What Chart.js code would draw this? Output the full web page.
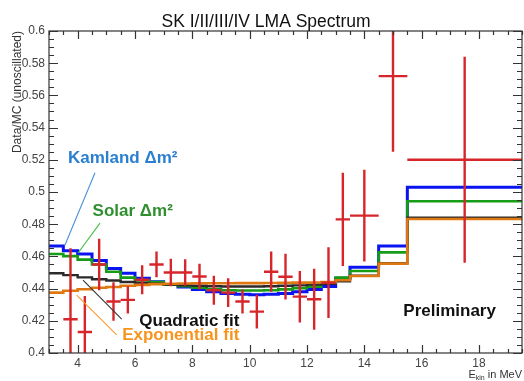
<!DOCTYPE html>
<html><head><meta charset="utf-8">
<script src="https://cdn.jsdelivr.net/npm/chart.js@4.4.1/dist/chart.umd.min.js"></script>
<style>html,body{margin:0;padding:0;background:#fff}#wrap{width:524px;height:381px;position:relative}</style>
</head><body><div id="wrap"><canvas id="c"></canvas></div>
<script>
// ---- data ----
const binEdges = [3,3.5,4,4.5,5,5.5,6,6.5,7,7.5,8,8.5,9,9.5,10,10.5,11,11.5,12,12.5,13,13.5,14.5,15.5,19.5];
const kamland     = [0.4665,0.4635,0.4615,0.4575,0.4525,0.4495,0.4465,0.4443,0.4425,0.4410,0.4395,0.4380,0.4370,0.4365,0.4362,0.4365,0.4370,0.4380,0.4395,0.4413,0.4465,0.4532,0.4665,0.5030];
const solar       = [0.4615,0.4602,0.4580,0.4550,0.4505,0.4468,0.4450,0.4440,0.4425,0.4415,0.4405,0.4395,0.4390,0.4388,0.4388,0.4390,0.4395,0.4402,0.4412,0.4432,0.4468,0.4509,0.4625,0.4943];
const quadratic   = [0.4495,0.4484,0.4470,0.4458,0.4450,0.4441,0.4435,0.4430,0.4425,0.4420,0.4418,0.4415,0.4413,0.4413,0.4413,0.4415,0.4418,0.4420,0.4425,0.4430,0.4445,0.4480,0.4557,0.4840];
const exponential = [0.4375,0.4387,0.4396,0.4405,0.4410,0.4418,0.4423,0.4428,0.4430,0.4432,0.4433,0.4433,0.4433,0.4434,0.4434,0.4435,0.4436,0.4437,0.4438,0.4440,0.4452,0.4478,0.4555,0.4832];

const dataX     = [3.75,4.25,4.75,5.25,5.75,6.25,6.75,7.25,7.75,8.25,8.75,9.25,9.75,10.25,10.75,11.25,11.75,12.25,12.75,13.25,14.0,15.0,17.5];
const dataY     = [0.421,0.413,0.455,0.432,0.433,0.4455,0.455,0.450,0.450,0.4475,0.439,0.4375,0.432,0.4257,0.4505,0.4474,0.435,0.4334,0.4437,0.483,0.4853,0.572,0.520];
const dataYErr  = [0.044,0.0224,0.016,0.012,0.0085,0.009,0.008,0.0085,0.0083,0.008,0.009,0.009,0.0075,0.0105,0.0125,0.0142,0.016,0.019,0.022,0.029,0.0285,0.047,0.064];
const dataXHalf = [0.25,0.25,0.25,0.25,0.25,0.25,0.25,0.25,0.25,0.25,0.25,0.25,0.25,0.25,0.25,0.25,0.25,0.25,0.25,0.25,0.5,0.5,2.0];

const xTickValues = [4,6,8,10,12,14,16,18];
const yTickValues = [0.4,0.42,0.44,0.46,0.48,0.5,0.52,0.54,0.56,0.58,0.6];

const FONT = '"Liberation Sans", Arial, Helvetica, sans-serif';

function stepData(vals){
  return binEdges.map((e,i)=>({x:e, y:vals[Math.min(i, vals.length-1)]}));
}

// annotations in data coordinates
const notes = [
  {text:'Kamland \u0394m\u00b2', color:'#2a7fd0', x:3.66, y:0.5183, align:'left', line:[4.605,0.512,3.558,0.4671], lineColor:'#4a90d8'},
  {text:'Solar \u0394m\u00b2', color:'#2f8f2f', x:4.52, y:0.4851, align:'left', line:[4.779,0.4807,4.012,0.4621], lineColor:'#44bb44'},
  {text:'Quadratic fit', color:'#111111', x:9.638, y:0.4165, align:'right', line:[5.536,0.4211,4.186,0.4453], lineColor:'#333333'},
  {text:'Exponential fit', color:'#f7941d', x:9.638, y:0.4081, align:'right', line:[5.362,0.4112,3.966,0.4360], lineColor:'#ff9a30'},
  {text:'Preliminary', color:'#111111', x:15.36, y:0.4232, align:'left', line:null}
];

const drawPlugin = {
  id:'rootStyle',
  afterDatasetsDraw(chart){
    const ctx = chart.ctx, a = chart.chartArea;
    const xs = chart.scales.x, ys = chart.scales.y;
    // error bars
    ctx.save();
    ctx.beginPath(); ctx.rect(a.left, a.top, a.right-a.left, a.bottom-a.top); ctx.clip();
    ctx.strokeStyle = '#d7262b'; ctx.lineWidth = 2.4; ctx.lineCap='butt';
    dataX.forEach((xv,i)=>{
      const px = xs.getPixelForValue(xv), py = ys.getPixelForValue(dataY[i]);
      ctx.beginPath();
      ctx.moveTo(px, ys.getPixelForValue(dataY[i]-dataYErr[i]));
      ctx.lineTo(px, ys.getPixelForValue(dataY[i]+dataYErr[i]));
      ctx.moveTo(xs.getPixelForValue(xv-dataXHalf[i]), py);
      ctx.lineTo(xs.getPixelForValue(xv+dataXHalf[i]), py);
      ctx.stroke();
    });
    ctx.restore();

    // frame + ticks
    ctx.save();
    ctx.strokeStyle = '#333'; ctx.lineWidth = 1.2;
    ctx.strokeRect(a.left, a.top, a.right-a.left, a.bottom-a.top);
    ctx.beginPath();
    for(let k=0;k<=40;k++){
      const v = 0.4 + k*0.005;
      const major = (k%4===0);
      const len = major ? 9 : 5;
      const py = Math.round(ys.getPixelForValue(v))+0.5;
      ctx.moveTo(a.left, py); ctx.lineTo(a.left+len, py);
      ctx.moveTo(a.right, py); ctx.lineTo(a.right-len, py);
    }
    for(let k=0;k<=33;k++){
      const v = 3 + k*0.5;
      const major = (Math.abs(v%2)<1e-9);
      const len = major ? 8 : 4;
      const px = Math.round(xs.getPixelForValue(v))+0.5;
      ctx.moveTo(px, a.bottom); ctx.lineTo(px, a.bottom-len);
      ctx.moveTo(px, a.top); ctx.lineTo(px, a.top+len);
    }
    ctx.stroke();
    ctx.restore();

    // annotations
    ctx.save();
    notes.forEach(n=>{
      if(n.line){
        ctx.strokeStyle = n.lineColor; ctx.lineWidth = 1.1;
        ctx.beginPath();
        ctx.moveTo(xs.getPixelForValue(n.line[0]), ys.getPixelForValue(n.line[1]));
        ctx.lineTo(xs.getPixelForValue(n.line[2]), ys.getPixelForValue(n.line[3]));
        ctx.stroke();
      }
      ctx.fillStyle = n.color; ctx.font = 'bold 17px '+FONT;
      ctx.textAlign=n.align; ctx.textBaseline='alphabetic';
      ctx.fillText(n.text, xs.getPixelForValue(n.x), ys.getPixelForValue(n.y));
    });
    // title
    ctx.fillStyle = '#111'; ctx.font = '17.5px '+FONT; ctx.textAlign='center';
    ctx.fillText('SK I/II/III/IV LMA Spectrum', 266, 27);
    // y title
    ctx.save();
    ctx.translate(21, a.top); ctx.rotate(-Math.PI/2);
    ctx.fillStyle = '#333'; ctx.font = '12px '+FONT; ctx.textAlign='right';
    ctx.fillText('Data/MC (unoscillated)', 0, 0);
    ctx.restore();
    // x title: E_kin in MeV
    ctx.fillStyle = '#333'; ctx.textAlign='left';
    const base = 378;
    ctx.font = '11px '+FONT;
    const wE = ctx.measureText('E').width;
    ctx.font = '7px '+FONT;
    const wK = ctx.measureText('kin').width;
    ctx.font = '11px '+FONT;
    const wR = ctx.measureText(' in MeV').width;
    let x0 = a.right - (wE+wK+wR);
    ctx.fillText('E', x0, base);
    ctx.font = '7px '+FONT; ctx.fillText('kin', x0+wE, base+2);
    ctx.font = '11px '+FONT; ctx.fillText(' in MeV', x0+wE+wK, base);
    ctx.restore();
  }
};

const lineDs = (label, vals, color, w, order) => ({
  type:'line', label, data: stepData(vals), borderColor: color, borderWidth: w,
  stepped: true, pointRadius: 0, fill: false, tension: 0, order
});

new Chart(document.getElementById('c'), {
  type:'line',
  data:{ datasets:[
    lineDs('Kamland', kamland, '#0a14f0', 3, 4),
    lineDs('Solar', solar, '#169c16', 2.6, 3),
    lineDs('Quadratic fit', quadratic, '#2a2a2a', 2.4, 2),
    lineDs('Exponential fit', exponential, '#e07812', 2.6, 1),
    {type:'scatter', label:'Data', data: dataX.map((x,i)=>({x, y:dataY[i]})), pointRadius:0, showLine:false, order:0}
  ]},
  options:{
    responsive:true, maintainAspectRatio:false, animation:false, devicePixelRatio:1,
    layout:{padding:{top:31, right:2, left:0, bottom:0}},
    plugins:{legend:{display:false}, tooltip:{enabled:false}, title:{display:false}},
    scales:{
      x:{type:'linear', min:3, max:19.5,
         grid:{display:false, drawTicks:false}, border:{display:false},
         ticks:{font:{size:12, family:FONT}, color:'#444', padding:3, maxRotation:0, autoSkip:false},
         afterBuildTicks: s => { s.ticks = xTickValues.map(v=>({value:v})); },
         afterFit: s => { s.height = 28; }
      },
      y:{type:'linear', min:0.4, max:0.6,
         grid:{display:false, drawTicks:false}, border:{display:false},
         ticks:{font:{size:12, family:FONT}, color:'#444', padding:4, autoSkip:false,
                callback: v => String(+(+v).toFixed(2))},
         afterBuildTicks: s => { s.ticks = yTickValues.map(v=>({value:v})); },
         afterFit: s => { s.width = 49; }
      }
    }
  },
  plugins:[drawPlugin]
});
</script>
</body></html>
